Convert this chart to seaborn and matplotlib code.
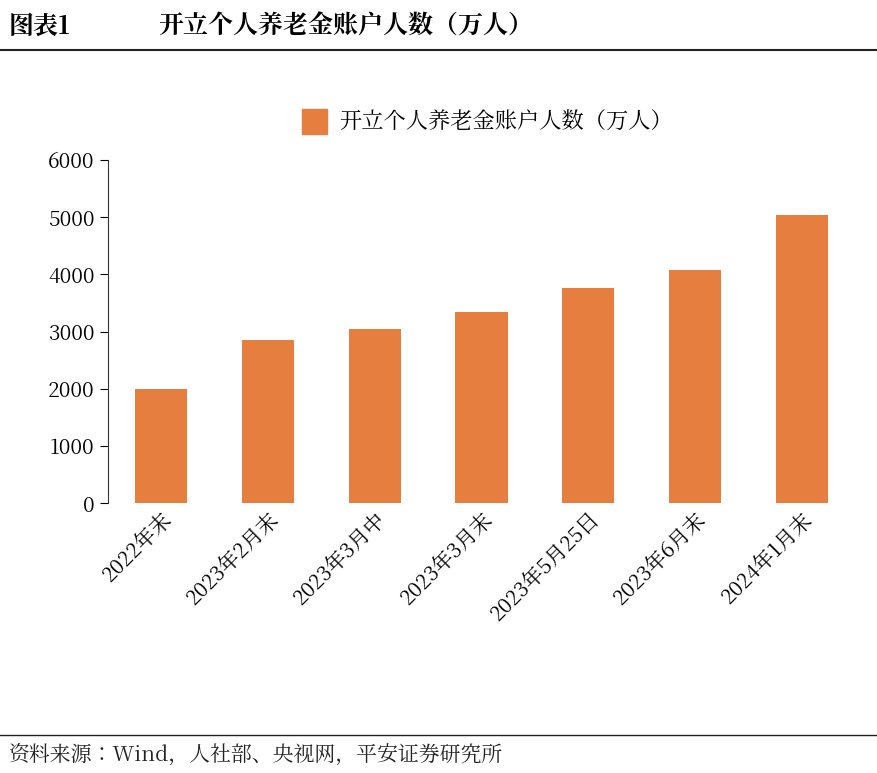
import matplotlib
matplotlib.use("Agg")
import matplotlib.pyplot as plt
from matplotlib import font_manager
import seaborn as sns
import pandas as pd
from matplotlib.lines import Line2D

# make sure a CJK font is registered
cjk_name = None
for f in font_manager.findSystemFonts():
    if "CJK" in f or "cjk" in f.lower():
        try:
            font_manager.fontManager.addfont(f)
            name = font_manager.FontProperties(fname=f).get_name()
            if cjk_name is None or "SC" in name:
                cjk_name = name
        except Exception:
            pass
plt.rcParams["font.family"] = [cjk_name or "Noto Sans CJK SC", "Noto Sans CJK JP", "DejaVu Sans"]
plt.rcParams["axes.unicode_minus"] = False

categories = ["2022年末", "2023年2月末", "2023年3月中", "2023年3月末",
              "2023年5月25日", "2023年6月末", "2024年1月末"]
accounts = [1990, 2860, 3040, 3340, 3770, 4070, 5030]
yticks = [0, 1000, 2000, 3000, 4000, 5000, 6000]
series_name = "开立个人养老金账户人数（万人）"
bar_color = "#E57E3F"

df = pd.DataFrame({"cat": categories, "val": accounts})

fig = plt.figure(figsize=(8.77, 7.73), dpi=100)
ax = fig.add_axes([0.123, 0.349, 0.852, 0.444])
sns.barplot(data=df, x="cat", y="val", color=bar_color, width=0.49,
            saturation=1, ax=ax)
ax.set_xlim(-0.5, len(categories) - 0.5)
ax.set_ylim(0, 6000)
ax.set_yticks(yticks)
ax.tick_params(axis="y", labelsize=15, length=6, direction="out")
ax.tick_params(axis="x", labelsize=15, length=0)
plt.setp(ax.get_xticklabels(), rotation=45, ha="right", rotation_mode="anchor")
ax.set_xlabel("")
ax.set_ylabel("")
for s in ["top", "right", "bottom"]:
    ax.spines[s].set_visible(False)
ax.spines["left"].set_color("#333333")

handle = Line2D([], [], marker="s", color=bar_color, linestyle="",
                markersize=18)
fig.legend([handle], [series_name], loc="center", bbox_to_anchor=(0.55, 0.842),
           frameon=False, fontsize=16, handletextpad=0.1)

fig.text(0.01, 0.965, "图表1", fontsize=18, fontweight="bold", va="center")
fig.text(0.18, 0.965, "开立个人养老金账户人数（万人）", fontsize=18,
         fontweight="bold", va="center")
fig.add_artist(Line2D([0, 1], [0.935, 0.935], color="#222222", lw=1.5))
fig.add_artist(Line2D([0, 1], [0.049, 0.049], color="#222222", lw=1))
fig.text(0.01, 0.023, "资料来源：Wind，人社部、央视网，平安证券研究所",
         fontsize=15, style="italic", va="center", color="#222222")

fig.savefig("out.png", dpi=100)
